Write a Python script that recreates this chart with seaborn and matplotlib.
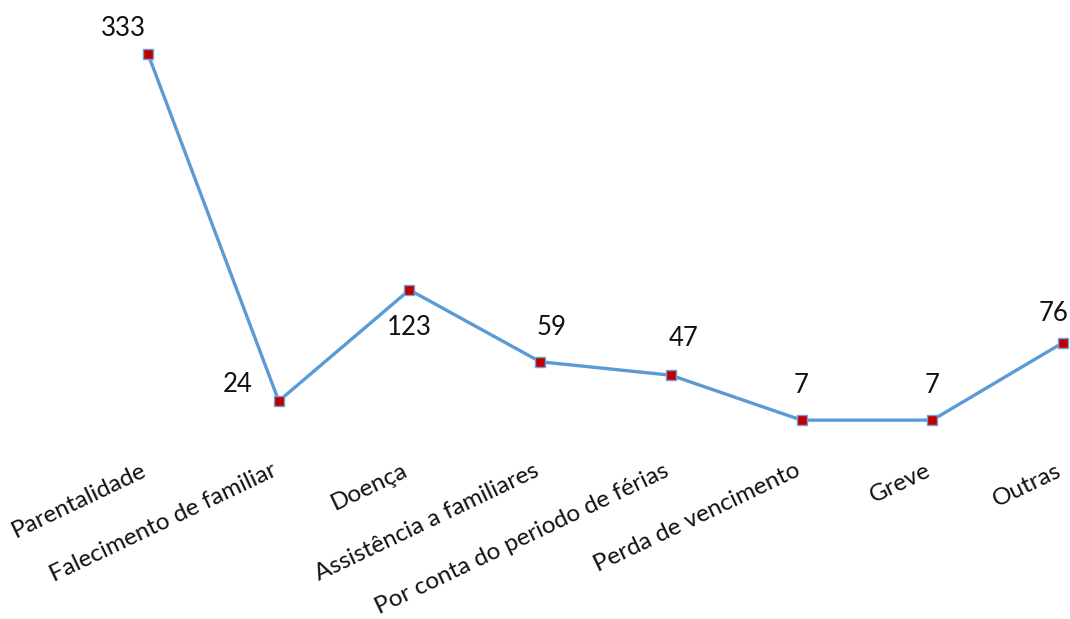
import matplotlib
matplotlib.use("Agg")
import matplotlib.pyplot as plt
import seaborn as sns
import pandas as pd

categories = [
    "Parentalidade",
    "Falecimento de familiar",
    "Doença",
    "Assistência a familiares",
    "Por conta do periodo de férias",
    "Perda de vencimento",
    "Greve",
    "Outras",
]
values = [333, 24, 123, 59, 47, 7, 7, 76]

# label offsets (pixels) relative to each point
label_offsets = [(-25, 26), (-41, 17), (0, -38), (11, 34), (13, 37), (0, 35), (0, 35), (-9, 29)]

sns.set_theme(style="white")
plt.rcParams["font.family"] = ["Lato", "DejaVu Sans"]

fig = plt.figure(figsize=(10.70, 6.19), dpi=100)
ax = fig.add_axes([135 / 1070, (619 - 428) / 619, 941 / 1070, (428 - 35) / 619])

df = pd.DataFrame({"pos": range(len(categories)), "valor": values})
sns.lineplot(
    data=df, x="pos", y="valor", ax=ax, sort=False,
    color="#5B9BD5", linewidth=2.4,
    marker="s", markersize=7.5, markerfacecolor="#C00000",
    markeredgecolor="#6FA0D8", markeredgewidth=1.0,
)

ax.set_xlim(-0.1, 7.1)
ax.set_ylim(0, 350)
ax.set_xticks(range(len(categories)))
ax.set_xticklabels(categories, rotation=25.5, ha="right", va="baseline",
                   rotation_mode="anchor", fontsize=17.5, color="#111111")
ax.tick_params(axis="x", length=0, pad=34)
ax.set_yticks([])
ax.set_xlabel("")
ax.set_ylabel("")
for s in ax.spines.values():
    s.set_visible(False)

for i, (v, off) in enumerate(zip(values, label_offsets)):
    ax.annotate(str(v), (i, v), xytext=off, textcoords="offset pixels",
                ha="center", va="center", fontsize=18.5, color="#111111")

fig.savefig("out.png", dpi=100)
